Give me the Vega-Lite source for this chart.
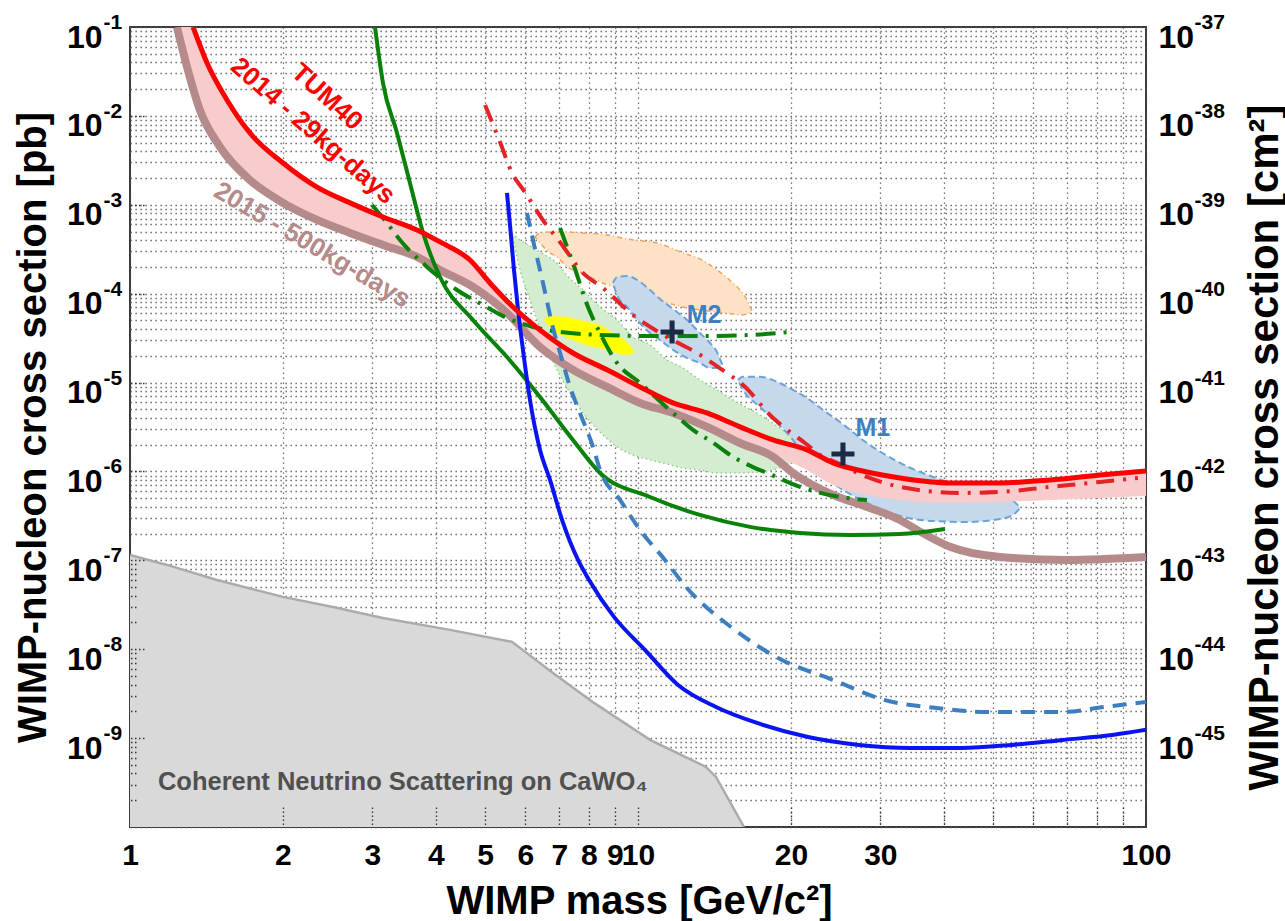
{
"$schema": "https://vega.github.io/schema/vega-lite/v6.json",
"width": 1016, "height": 800,
"autosize": {"type": "none"},
"padding": {"left": 130, "top": 27, "right": 139, "bottom": 94},
"background": "white",
"config": {"font": "Liberation Sans", "view": {"stroke": "#3a3a3a", "strokeWidth": 2},
  "axis": {"labelFont": "Liberation Sans", "titleFont": "Liberation Sans", "labelColor": "#000000", "titleColor": "#000000"}},
"encoding": {
  "x": {"field": "x", "type": "quantitative", "scale": {"type": "log", "domain": [1, 100], "nice": false}, "axis": null},
  "y": {"field": "y", "type": "quantitative", "scale": {"type": "log", "domain": [1e-10, 0.1], "nice": false}, "axis": null}
},
"resolve": {"axis": {"x": "independent", "y": "independent"}},
"datasets": {
  "neutrino": [
    {"x": 1, "y": 1.15e-7}, {"x": 1.183, "y": 8.88e-8}, {"x": 1.483, "y": 6.02e-8}, {"x": 2.001, "y": 3.88e-8},
    {"x": 2.51, "y": 2.99e-8}, {"x": 3.148, "y": 2.25e-8}, {"x": 4.265, "y": 1.65e-8}, {"x": 5.649, "y": 1.21e-8},
    {"x": 6.803, "y": 5.41e-9}, {"x": 8.193, "y": 2.49e-9}, {"x": 10.56, "y": 9.55e-10}, {"x": 13.61, "y": 4.74e-10},
    {"x": 14.24, "y": 3.66e-10}, {"x": 16.17, "y": 1e-10}
  ]
},
"layer": [
{
  "data": {"name": "neutrino"},
  "mark": {"type": "area", "fill": "#d9d9d9", "clip": true},
  "encoding": {
    "x": {"field": "x", "type": "quantitative", "scale": {"type": "log", "domain": [1, 100], "nice": false},
      "axis": {"orient": "bottom", "values": [1,2,3,4,5,6,7,8,9,10,20,30,40,50,60,70,80,90,100],
        "labelExpr": "datum.value <= 30 || datum.value >= 100 ? '' + datum.value : ''",
        "grid": true, "gridColor": "#555555", "gridDash": [1.3, 3.7], "gridWidth": 1.3,
        "ticks": false, "tickSize": 0, "domain": false,
        "labelFontSize": 30, "labelFontWeight": "bold", "labelPadding": 13, "labelOverlap": false, "labelBound": false, "labelFlush": false,
        "labelBaseline": "top", "labelAlign": "center",
        "title": "WIMP mass [GeV/c²]", "titleFontSize": 40, "titleFontWeight": "bold",
        "titleX": 509, "titleY": 86, "titleAlign": "center", "titleBaseline": "alphabetic"}},
    "y": {"field": "y", "type": "quantitative", "scale": {"type": "log", "domain": [1e-10, 0.1], "nice": false},
      "axis": {"orient": "left",
        "values": [1e-10,2e-10,3e-10,4e-10,5e-10,6e-10,7e-10,8e-10,9e-10,
                   1e-9,2e-9,3e-9,4e-9,5e-9,6e-9,7e-9,8e-9,9e-9,
                   1e-8,2e-8,3e-8,4e-8,5e-8,6e-8,7e-8,8e-8,9e-8,
                   1e-7,2e-7,3e-7,4e-7,5e-7,6e-7,7e-7,8e-7,9e-7,
                   1e-6,2e-6,3e-6,4e-6,5e-6,6e-6,7e-6,8e-6,9e-6,
                   1e-5,2e-5,3e-5,4e-5,5e-5,6e-5,7e-5,8e-5,9e-5,
                   1e-4,2e-4,3e-4,4e-4,5e-4,6e-4,7e-4,8e-4,9e-4,
                   1e-3,2e-3,3e-3,4e-3,5e-3,6e-3,7e-3,8e-3,9e-3,
                   1e-2,2e-2,3e-2,4e-2,5e-2,6e-2,7e-2,8e-2,9e-2,0.1],
        "labelExpr": "abs(log(datum.value)/LN10 - round(log(datum.value)/LN10)) < 0.001 && datum.value > 5e-10 ? '10' : ''",
        "grid": true, "gridColor": "#555555", "gridDash": [1.3, 3.7], "gridWidth": 1.3,
        "ticks": false, "tickSize": 0, "domain": false,
        "labelFontSize": 32, "labelFontWeight": "bold", "labelPadding": 28, "labelOffset": 10, "labelOverlap": false, "labelBound": false, "labelFlush": false,
        "labelBaseline": "middle", "labelAlign": "right",
        "title": "WIMP-nucleon cross section [pb]", "titleFontSize": 40, "titleFontWeight": "bold",
        "titleAngle": 270, "titleX": -85, "titleY": 400, "titleAlign": "center", "titleBaseline": "alphabetic"}},
    "y2": {"datum": 1e-10}
  }
},
{
  "data": {"name": "neutrino"},
  "mark": {"type": "line", "color": "#ababab", "strokeWidth": 2.5, "clip": true},
  "encoding": {}
},
{
  "data": {"values": [{"x": 10, "y": 0.001}]},
  "mark": {"type": "point", "opacity": 0},
  "encoding": {
    "y": {"field": "y", "type": "quantitative", "scale": {"type": "log", "domain": [1e-10, 0.1], "nice": false},
      "axis": {"orient": "left", "values": [1e-9,1e-8,1e-7,1e-6,1e-5,1e-4,1e-3,1e-2,0.1],
        "labelExpr": "'-' + (-round(log(datum.value)/LN10))",
        "grid": false, "ticks": false, "tickSize": 0, "domain": false,
        "labelFontSize": 21, "labelFontWeight": "bold", "labelPadding": 27, "labelOffset": -4.5, "labelOverlap": false, "labelBound": false, "labelFlush": false,
        "labelBaseline": "middle", "labelAlign": "left", "title": null}}
  }
},
{
  "data": {"values": [{"x": 10, "y": 0.001}]},
  "mark": {"type": "point", "opacity": 0},
  "encoding": {
    "y": {"field": "y", "type": "quantitative", "scale": {"type": "log", "domain": [1e-10, 0.1], "nice": false},
      "axis": {"orient": "right", "values": [1e-9,1e-8,1e-7,1e-6,1e-5,1e-4,1e-3,1e-2,0.1],
        "labelExpr": "'10'",
        "grid": false, "ticks": false, "tickSize": 0, "domain": false,
        "labelFontSize": 32, "labelFontWeight": "bold", "labelPadding": 12, "labelOffset": 10, "labelOverlap": false, "labelBound": false, "labelFlush": false,
        "labelBaseline": "middle", "labelAlign": "left", "title": null}}
  }
},
{
  "data": {"values": [{"x": 10, "y": 0.001}]},
  "mark": {"type": "point", "opacity": 0},
  "encoding": {
    "y": {"field": "y", "type": "quantitative", "scale": {"type": "log", "domain": [1e-10, 0.1], "nice": false},
      "axis": {"orient": "right", "values": [1e-9,1e-8,1e-7,1e-6,1e-5,1e-4,1e-3,1e-2,0.1],
        "labelExpr": "'-' + (36 - round(log(datum.value)/LN10))",
        "grid": false, "ticks": false, "tickSize": 0, "domain": false,
        "labelFontSize": 21, "labelFontWeight": "bold", "labelPadding": 48, "labelOffset": -4.5, "labelOverlap": false, "labelBound": false, "labelFlush": false,
        "labelBaseline": "middle", "labelAlign": "left",
        "title": "WIMP-nucleon cross section [cm²]", "titleFontSize": 42, "titleFontWeight": "bold",
        "titleAngle": 270, "titleX": 131, "titleY": 420, "titleAlign": "center", "titleBaseline": "alphabetic"}}
  }
},
{
  "data": {"values": [
    {"x": 5.649, "y": 4.82e-4, "y2": 4.82e-4}, {"x": 5.727, "y": 4.46e-4, "y2": 3.27e-4}, {"x": 5.858, "y": 4.02e-4, "y2": 1.85e-4},
    {"x": 6.129, "y": 3.44e-4, "y2": 8.5e-5}, {"x": 6.327, "y": 3.1e-4, "y2": 5.06e-5}, {"x": 6.413, "y": 2.94e-4, "y2": 4.11e-5},
    {"x": 6.928, "y": 2.2e-4, "y2": 1.39e-5}, {"x": 7.248, "y": 1.6e-4, "y2": 8.7e-6}, {"x": 7.794, "y": 1.1e-4, "y2": 4.55e-6},
    {"x": 8.418, "y": 7.08e-5, "y2": 2.78e-6}, {"x": 9.093, "y": 5.06e-5, "y2": 1.89e-6}, {"x": 9.777, "y": 3.26e-5, "y2": 1.53e-6},
    {"x": 10.56, "y": 2.65e-5, "y2": 1.35e-6}, {"x": 11.4, "y": 1.8e-5, "y2": 1.21e-6}, {"x": 12.27, "y": 1.46e-5, "y2": 1.09e-6},
    {"x": 13.24, "y": 1.07e-5, "y2": 1.04e-6}, {"x": 14.3, "y": 8.26e-6, "y2": 9.62e-7}, {"x": 15.38, "y": 6.37e-6, "y2": 9.62e-7},
    {"x": 17.39, "y": 4.32e-6, "y2": 9.87e-7}, {"x": 20.19, "y": 2.44e-6, "y2": 1.28e-6}, {"x": 22.0, "y": 1.75e-6, "y2": 1.75e-6}
  ]},
  "mark": {"type": "area", "interpolate": "monotone", "fill": "#d4ecd0", "stroke": "#8fcf8a", "strokeWidth": 1.5, "strokeDash": [1.5, 3], "clip": true},
  "encoding": {"y2": {"field": "y2"}}
},
{
  "data": {"values": [
    {"x": 6.269, "y": 4.35e-4, "y2": 4.35e-4}, {"x": 6.413, "y": 4.82e-4, "y2": 3.72e-4}, {"x": 6.711, "y": 4.94e-4, "y2": 2.87e-4},
    {"x": 6.928, "y": 4.94e-4, "y2": 2.59e-4}, {"x": 7.248, "y": 4.94e-4, "y2": 2.0e-4}, {"x": 7.688, "y": 4.82e-4, "y2": 1.75e-4},
    {"x": 8.418, "y": 4.7e-4, "y2": 1.36e-4}, {"x": 9.777, "y": 4.02e-4, "y2": 1.02e-4}, {"x": 10.9, "y": 3.72e-4, "y2": 8.5e-5},
    {"x": 12.27, "y": 2.87e-4, "y2": 7.08e-5}, {"x": 13.24, "y": 2.46e-4, "y2": 6.56e-5}, {"x": 14.3, "y": 1.85e-4, "y2": 6.22e-5},
    {"x": 15.38, "y": 1.32e-4, "y2": 5.91e-5}, {"x": 15.88, "y": 1.1e-4, "y2": 5.75e-5}, {"x": 16.39, "y": 8.5e-5, "y2": 5.91e-5},
    {"x": 16.77, "y": 6.39e-5, "y2": 6.39e-5}
  ]},
  "mark": {"type": "area", "interpolate": "monotone", "fill": "#fde2c8", "stroke": "#f5a55a", "strokeWidth": 1.5, "strokeDash": [5, 3, 1, 3], "clip": true},
  "encoding": {"y2": {"field": "y2"}}
},
{
  "data": {"values": [
    {"x": 6.501, "y": 5.19e-5, "y2": 5.19e-5}, {"x": 6.803, "y": 5.61e-5, "y2": 3.91e-5}, {"x": 7.248, "y": 5.47e-5, "y2": 3.18e-5},
    {"x": 7.688, "y": 5.06e-5, "y2": 2.79e-5}, {"x": 8.155, "y": 4.68e-5, "y2": 2.51e-5}, {"x": 8.418, "y": 4.45e-5, "y2": 2.45e-5},
    {"x": 8.929, "y": 3.61e-5, "y2": 2.21e-5}, {"x": 9.513, "y": 2.86e-5, "y2": 2.04e-5}, {"x": 9.865, "y": 2.21e-5, "y2": 2.21e-5}
  ]},
  "mark": {"type": "area", "interpolate": "monotone", "fill": "#ffff00", "stroke": "#f3ef80", "strokeWidth": 1, "clip": true},
  "encoding": {"y2": {"field": "y2"}}
},
{
  "data": {"values": [
    {"r": "M2", "x": 8.929, "y": 1.32e-4, "y2": 1.32e-4}, {"r": "M2", "x": 9.093, "y": 1.54e-4, "y2": 9.66e-5}, {"r": "M2", "x": 9.513, "y": 1.58e-4, "y2": 7.08e-5},
    {"r": "M2", "x": 10.09, "y": 1.36e-4, "y2": 4.68e-5}, {"r": "M2", "x": 10.56, "y": 1.1e-4, "y2": 3.61e-5}, {"r": "M2", "x": 11.05, "y": 8.71e-5, "y2": 3.01e-5},
    {"r": "M2", "x": 11.72, "y": 6.73e-5, "y2": 2.33e-5}, {"r": "M2", "x": 12.49, "y": 5.06e-5, "y2": 1.89e-5}, {"r": "M2", "x": 13.24, "y": 3.61e-5, "y2": 1.66e-5},
    {"r": "M2", "x": 13.86, "y": 2.79e-5, "y2": 1.46e-5}, {"r": "M2", "x": 14.3, "y": 2.21e-5, "y2": 1.46e-5}, {"r": "M2", "x": 14.63, "y": 1.62e-5, "y2": 1.62e-5},
    {"r": "M1", "x": 15.73, "y": 1.07e-5, "y2": 1.07e-5}, {"r": "M1", "x": 16.1, "y": 1.16e-5, "y2": 8.26e-6}, {"r": "M1", "x": 17.39, "y": 1.16e-5, "y2": 5.32e-6},
    {"r": "M1", "x": 18.78, "y": 1.02e-5, "y2": 3.52e-6}, {"r": "M1", "x": 20.19, "y": 8.26e-6, "y2": 2.26e-6}, {"r": "M1", "x": 21.8, "y": 6.37e-6, "y2": 1.18e-6},
    {"r": "M1", "x": 23.13, "y": 4.92e-6, "y2": 8.9e-7}, {"r": "M1", "x": 24.98, "y": 3.6e-6, "y2": 6.52e-7}, {"r": "M1", "x": 28.23, "y": 2.09e-6, "y2": 4.42e-7},
    {"r": "M1", "x": 32.79, "y": 1.25e-6, "y2": 3.16e-7}, {"r": "M1", "x": 38.08, "y": 8.67e-7, "y2": 2.77e-7}, {"r": "M1", "x": 44.42, "y": 6.52e-7, "y2": 2.7e-7},
    {"r": "M1", "x": 51.6, "y": 5.03e-7, "y2": 2.92e-7}, {"r": "M1", "x": 54.72, "y": 4.66e-7, "y2": 3.24e-7}, {"r": "M1", "x": 56.49, "y": 3.88e-7, "y2": 3.88e-7}
  ]},
  "mark": {"type": "area", "interpolate": "monotone", "fill": "#c5d8ec", "stroke": "#6ea3d6", "strokeWidth": 2, "strokeDash": [7, 4], "clip": true},
  "encoding": {"y2": {"field": "y2"}, "detail": {"field": "r"}}
},
{
  "data": {"values": [
    {"x": 1.237, "y": 0.26, "y2": 0.1}, {"x": 1.331, "y": 0.1, "y2": 2.29e-2}, {"x": 1.418, "y": 3.94e-2, "y2": 7.9e-3},
    {"x": 1.552, "y": 1.51e-2, "y2": 3.83e-3}, {"x": 1.722, "y": 6.43e-3, "y2": 1.9e-3}, {"x": 2.001, "y": 2.95e-3, "y2": 1.05e-3},
    {"x": 2.334, "y": 1.58e-3, "y2": 6.75e-4}, {"x": 2.711, "y": 1.05e-3, "y2": 4.82e-4}, {"x": 3.148, "y": 7.29e-4, "y2": 3.53e-4},
    {"x": 3.673, "y": 5.21e-4, "y2": 2.59e-4}, {"x": 4.076, "y": 3.82e-4, "y2": 1.85e-4}, {"x": 4.669, "y": 2.39e-4, "y2": 1.25e-4},
    {"x": 5.112, "y": 1.32e-4, "y2": 8.5e-5}, {"x": 5.675, "y": 7.08e-5, "y2": 5.06e-5}, {"x": 6.413, "y": 3.91e-5, "y2": 2.51e-5},
    {"x": 7.447, "y": 2.15e-5, "y2": 1.39e-5}, {"x": 8.69, "y": 1.39e-5, "y2": 8.93e-6}, {"x": 10.09, "y": 8.93e-6, "y2": 5.9e-6},
    {"x": 11.72, "y": 5.9e-6, "y2": 4.55e-6}, {"x": 13.67, "y": 4.55e-6, "y2": 3.17e-6}, {"x": 15.88, "y": 3.17e-6, "y2": 2.26e-6},
    {"x": 18.45, "y": 2.26e-6, "y2": 1.53e-6}, {"x": 21.51, "y": 1.75e-6, "y2": 1.04e-6}, {"x": 24.21, "y": 1.25e-6, "y2": 7.05e-7},
    {"x": 28.23, "y": 9.87e-7, "y2": 5.44e-7}, {"x": 32.79, "y": 8.45e-7, "y2": 4.78e-7}, {"x": 41.13, "y": 7.43e-7, "y2": 4.42e-7},
    {"x": 51.6, "y": 7.43e-7, "y2": 4.54e-7}, {"x": 64.71, "y": 8.02e-7, "y2": 4.78e-7}, {"x": 81.2, "y": 9.14e-7, "y2": 5.03e-7},
    {"x": 100, "y": 1.01e-6, "y2": 5.3e-7}
  ]},
  "mark": {"type": "area", "interpolate": "monotone", "fill": "#f8cccc", "clip": true},
  "encoding": {"y2": {"field": "y2"}}
},
{
  "data": {"values": [
    {"x": 1.237, "y": 0.1}, {"x": 1.295, "y": 3.55e-2}, {"x": 1.373, "y": 1.16e-2}, {"x": 1.504, "y": 4.47e-3}, {"x": 1.722, "y": 1.9e-3},
    {"x": 2.001, "y": 1.05e-3}, {"x": 2.334, "y": 6.75e-4}, {"x": 2.711, "y": 4.82e-4}, {"x": 3.148, "y": 3.53e-4}, {"x": 3.673, "y": 2.59e-4},
    {"x": 4.076, "y": 1.85e-4}, {"x": 4.733, "y": 1.19e-4}, {"x": 5.522, "y": 6.07e-5}, {"x": 6.413, "y": 2.51e-5}, {"x": 7.447, "y": 1.39e-5},
    {"x": 8.69, "y": 8.93e-6}, {"x": 10.09, "y": 5.9e-6}, {"x": 11.72, "y": 4.55e-6}, {"x": 13.67, "y": 3.17e-6}, {"x": 15.88, "y": 2.09e-6},
    {"x": 18.45, "y": 1.46e-6}, {"x": 20.19, "y": 9.62e-7}, {"x": 24.21, "y": 5.44e-7}, {"x": 28.23, "y": 3.99e-7}, {"x": 32.79, "y": 2.84e-7},
    {"x": 35.42, "y": 2.2e-7}, {"x": 41.13, "y": 1.42e-7}, {"x": 51.6, "y": 1.09e-7}, {"x": 69.9, "y": 1.01e-7}, {"x": 100, "y": 1.09e-7}
  ]},
  "mark": {"type": "line", "interpolate": "monotone", "color": "#b58a8a", "strokeWidth": 8, "clip": true},
  "encoding": {}
},
{
  "data": {"values": [
    {"x": 3.036, "y": 0.1}, {"x": 3.148, "y": 2.34e-2}, {"x": 3.354, "y": 6.43e-3}, {"x": 3.557, "y": 1.76e-3}, {"x": 3.775, "y": 4.82e-4},
    {"x": 4.076, "y": 1.54e-4}, {"x": 4.733, "y": 5.06e-5}, {"x": 5.522, "y": 1.94e-5}, {"x": 6.413, "y": 6.89e-6}, {"x": 7.447, "y": 2.26e-6},
    {"x": 8.418, "y": 9.62e-7}, {"x": 10.56, "y": 5.16e-7}, {"x": 13.24, "y": 3.24e-7}, {"x": 16.61, "y": 2.38e-7}, {"x": 20.84, "y": 2.03e-7},
    {"x": 26.14, "y": 1.93e-7}, {"x": 32.79, "y": 1.98e-7}, {"x": 40.21, "y": 2.25e-7}
  ]},
  "mark": {"type": "line", "interpolate": "monotone", "color": "#0a820a", "strokeWidth": 4, "clip": true},
  "encoding": {}
},
{
  "data": {"values": [
    {"c": "A", "x": 2.995, "y": 9.95e-4}, {"c": "A", "x": 3.205, "y": 6.24e-4}, {"c": "A", "x": 3.4, "y": 4.02e-4}, {"c": "A", "x": 3.843, "y": 2.0e-4},
    {"c": "A", "x": 4.402, "y": 1.1e-4}, {"c": "A", "x": 4.953, "y": 7.46e-5}, {"c": "A", "x": 5.522, "y": 5.33e-5}, {"c": "A", "x": 6.213, "y": 4.22e-5},
    {"c": "A", "x": 7.023, "y": 3.71e-5}, {"c": "A", "x": 8.418, "y": 3.43e-5}, {"c": "A", "x": 10.56, "y": 3.34e-5}, {"c": "A", "x": 13.24, "y": 3.34e-5},
    {"c": "A", "x": 16.61, "y": 3.43e-5}, {"c": "A", "x": 19.92, "y": 3.71e-5},
    {"c": "B", "x": 7.023, "y": 5.48e-4}, {"c": "B", "x": 7.447, "y": 2.21e-4}, {"c": "B", "x": 7.973, "y": 7.08e-5}, {"c": "B", "x": 8.418, "y": 3.61e-5},
    {"c": "B", "x": 9.093, "y": 1.66e-5}, {"c": "B", "x": 10.09, "y": 9.9e-6}, {"c": "B", "x": 11.72, "y": 4.55e-6}, {"c": "B", "x": 12.83, "y": 2.93e-6},
    {"c": "B", "x": 13.98, "y": 2.15e-6}, {"c": "B", "x": 15.38, "y": 1.46e-6}, {"c": "B", "x": 16.84, "y": 1.12e-6}, {"c": "B", "x": 17.95, "y": 9.62e-7},
    {"c": "B", "x": 20.84, "y": 6.7e-7}, {"c": "B", "x": 24.98, "y": 5.16e-7}, {"c": "B", "x": 28.23, "y": 4.78e-7}
  ]},
  "mark": {"type": "line", "interpolate": "monotone", "color": "#0a820a", "strokeWidth": 4, "strokeDash": [20, 8, 3, 8], "clip": true},
  "encoding": {"detail": {"field": "c"}}
},
{
  "data": {"values": [
    {"x": 6.046, "y": 8.09e-4}, {"x": 6.213, "y": 4.02e-4}, {"x": 6.501, "y": 1.32e-4}, {"x": 6.803, "y": 4.11e-5}, {"x": 7.09, "y": 1.8e-5},
    {"x": 7.348, "y": 8.93e-6}, {"x": 7.688, "y": 4.55e-6}, {"x": 8.155, "y": 1.89e-6}, {"x": 8.418, "y": 1.04e-6}, {"x": 9.218, "y": 4.78e-7},
    {"x": 10.09, "y": 2.2e-7}, {"x": 11.3, "y": 1.01e-7}, {"x": 12.43, "y": 5.02e-8}, {"x": 15.24, "y": 1.78e-8}, {"x": 19.2, "y": 7.58e-9},
    {"x": 24.21, "y": 4.52e-9}, {"x": 30.5, "y": 2.69e-9}, {"x": 38.42, "y": 2.19e-9}, {"x": 48.42, "y": 1.97e-9}, {"x": 68.64, "y": 1.97e-9},
    {"x": 82.7, "y": 2.24e-9}, {"x": 100, "y": 2.55e-9}
  ]},
  "mark": {"type": "line", "interpolate": "monotone", "color": "#3c7fc1", "strokeWidth": 4, "strokeDash": [14, 9], "clip": true},
  "encoding": {}
},
{
  "data": {"values": [
    {"x": 5.522, "y": 1.36e-3}, {"x": 5.598, "y": 5.93e-4}, {"x": 5.70, "y": 1.85e-4}, {"x": 5.806, "y": 6.56e-5}, {"x": 5.937, "y": 2.33e-5},
    {"x": 6.129, "y": 6.37e-6}, {"x": 6.413, "y": 1.75e-6}, {"x": 6.711, "y": 8.02e-7}, {"x": 7.09, "y": 2.84e-7}, {"x": 7.62, "y": 1.01e-7},
    {"x": 8.01, "y": 6.02e-8}, {"x": 8.97, "y": 2.31e-8}, {"x": 10.32, "y": 9.82e-9}, {"x": 11.99, "y": 3.96e-9}, {"x": 14.24, "y": 2.24e-9},
    {"x": 17.15, "y": 1.48e-9}, {"x": 21.61, "y": 1.03e-9}, {"x": 27.23, "y": 8.39e-10}, {"x": 34.31, "y": 7.76e-10}, {"x": 43.23, "y": 7.76e-10},
    {"x": 54.47, "y": 8.39e-10}, {"x": 68.64, "y": 9.55e-10}, {"x": 86.5, "y": 1.09e-9}, {"x": 100, "y": 1.24e-9}
  ]},
  "mark": {"type": "line", "interpolate": "monotone", "color": "#0a14f0", "strokeWidth": 4, "clip": true},
  "encoding": {}
},
{
  "data": {"values": [
    {"x": 5.0, "y": 1.33e-2}, {"x": 5.35, "y": 5.08e-3}, {"x": 5.65, "y": 2.28e-3}, {"x": 5.99, "y": 1.39e-3}, {"x": 6.56, "y": 6.24e-4},
    {"x": 7.02, "y": 3.82e-4}, {"x": 7.79, "y": 1.71e-4}, {"x": 8.53, "y": 1.16e-4}, {"x": 9.78, "y": 5.75e-5}, {"x": 11.4, "y": 3.26e-5},
    {"x": 13.07, "y": 2.15e-5}, {"x": 14.83, "y": 1.32e-5}, {"x": 16.1, "y": 9.4e-6}, {"x": 18.36, "y": 4.1e-6}, {"x": 19.92, "y": 2.78e-6},
    {"x": 21.32, "y": 2.09e-6}, {"x": 22.82, "y": 1.53e-6}, {"x": 24.65, "y": 1.25e-6}, {"x": 28.23, "y": 8.67e-7}, {"x": 32.79, "y": 6.7e-7},
    {"x": 43.04, "y": 5.73e-7}, {"x": 51.6, "y": 5.88e-7}, {"x": 64.71, "y": 6.7e-7}, {"x": 81.2, "y": 7.62e-7}, {"x": 96.4, "y": 8.45e-7}
  ]},
  "mark": {"type": "line", "interpolate": "monotone", "color": "#e42328", "strokeWidth": 4, "strokeDash": [18, 9, 3, 9], "clip": true},
  "encoding": {}
},
{
  "data": {"values": [
    {"x": 1.331, "y": 0.1}, {"x": 1.418, "y": 3.94e-2}, {"x": 1.552, "y": 1.51e-2}, {"x": 1.722, "y": 6.43e-3}, {"x": 2.001, "y": 2.95e-3},
    {"x": 2.334, "y": 1.58e-3}, {"x": 2.711, "y": 1.05e-3}, {"x": 3.148, "y": 7.29e-4}, {"x": 3.673, "y": 5.21e-4}, {"x": 4.076, "y": 3.82e-4},
    {"x": 4.669, "y": 2.39e-4}, {"x": 5.112, "y": 1.32e-4}, {"x": 5.675, "y": 7.08e-5}, {"x": 6.413, "y": 3.91e-5}, {"x": 7.447, "y": 2.15e-5},
    {"x": 8.69, "y": 1.39e-5}, {"x": 10.09, "y": 8.93e-6}, {"x": 11.72, "y": 5.9e-6}, {"x": 13.67, "y": 4.55e-6}, {"x": 15.88, "y": 3.17e-6},
    {"x": 18.45, "y": 2.26e-6}, {"x": 21.51, "y": 1.75e-6}, {"x": 24.21, "y": 1.25e-6}, {"x": 28.23, "y": 9.87e-7}, {"x": 32.79, "y": 8.45e-7},
    {"x": 41.13, "y": 7.43e-7}, {"x": 51.6, "y": 7.43e-7}, {"x": 64.71, "y": 8.02e-7}, {"x": 81.2, "y": 9.14e-7}, {"x": 100, "y": 1.01e-6}
  ]},
  "mark": {"type": "line", "interpolate": "monotone", "color": "#ff0000", "strokeWidth": 5, "clip": true},
  "encoding": {}
},
{
  "data": {"values": [{"x": 11.67, "y": 3.71e-5}, {"x": 25.32, "y": 1.57e-6}]},
  "mark": {"type": "point", "shape": "M-1,-0.22L1,-0.22L1,0.22L-1,0.22Z M-0.22,-1L0.22,-1L0.22,1L-0.22,1Z", "size": 529, "filled": true, "color": "#1c2b44", "opacity": 1}
},
{
  "data": {"values": [{"x": 2.442, "y": 0.0163, "t": "TUM40"}]},
  "mark": {"type": "text", "angle": 42, "fontSize": 26, "fontWeight": "bold", "color": "#ff0000", "align": "center", "baseline": "middle"},
  "encoding": {"text": {"field": "t"}}
},
{
  "data": {"values": [{"x": 2.292, "y": 0.00676, "t": "2014 - 29kg-days"}]},
  "mark": {"type": "text", "angle": 41, "fontSize": 26, "fontWeight": "bold", "color": "#ff0000", "align": "center", "baseline": "middle"},
  "encoding": {"text": {"field": "t"}}
},
{
  "data": {"values": [{"x": 2.283, "y": 3.53e-4, "t": "2015 - 500kg-days"}]},
  "mark": {"type": "text", "angle": 30.5, "fontSize": 26, "fontWeight": "bold", "color": "#b58a8a", "align": "center", "baseline": "middle"},
  "encoding": {"text": {"field": "t"}}
},
{
  "data": {"values": [{"x": 13.49, "y": 5.75e-5, "t": "M2"}, {"x": 29.0, "y": 3.08e-6, "t": "M1"}]},
  "mark": {"type": "text", "fontSize": 25, "fontWeight": "bold", "color": "#3d80c2", "align": "center", "baseline": "middle"},
  "encoding": {"text": {"field": "t"}}
},
{
  "data": {"values": [{"x": 1.135, "y": 3.21e-10, "t": "Coherent Neutrino Scattering on CaWO₄"}]},
  "mark": {"type": "text", "fontSize": 25.5, "fontWeight": "bold", "color": "#505050", "align": "left", "baseline": "middle"},
  "encoding": {"text": {"field": "t"}}
},
{
  "data": {"values": [{"x": 10, "y": 0.001}]},
  "mark": {"type": "point", "opacity": 0},
  "encoding": {
    "x": {"field": "x", "type": "quantitative", "scale": {"type": "log", "domain": [1, 100], "nice": false},
      "axis": {"orient": "bottom", "offset": -20, "values": [2,3,4,5,6,7,8,9,10,20,30,40,50,60,70,80,90],
        "labels": false, "grid": false, "domain": false, "ticks": true, "tickSize": 20, "tickWidth": 1.3, "tickColor": "#333333",
        "tickDash": [1.5, 2.5], "zindex": 1, "title": null}}
  }
},
{
  "data": {"values": [{"x": 10, "y": 0.001}]},
  "mark": {"type": "point", "opacity": 0},
  "encoding": {
    "y": {"field": "y", "type": "quantitative", "scale": {"type": "log", "domain": [1e-10, 0.1], "nice": false},
      "axis": {"orient": "left", "offset": -14, "values": [1e-9,1e-8,1e-7,1e-6,1e-5,1e-4,1e-3,1e-2],
        "labels": false, "grid": false, "domain": false, "ticks": true, "tickSize": 14, "tickWidth": 1.3, "tickColor": "#333333",
        "tickDash": [1.5, 2.5], "zindex": 1, "title": null}}
  }
},
{
  "data": {"values": [{"x": 10, "y": 0.001}]},
  "mark": {"type": "point", "opacity": 0},
  "encoding": {
    "y": {"field": "y", "type": "quantitative", "scale": {"type": "log", "domain": [1e-10, 0.1], "nice": false},
      "axis": {"orient": "left", "offset": -6,
        "values": [2e-10,3e-10,4e-10,5e-10,6e-10,7e-10,8e-10,9e-10,
                   2e-9,3e-9,4e-9,5e-9,6e-9,7e-9,8e-9,9e-9,
                   2e-8,3e-8,4e-8,5e-8,6e-8,7e-8,8e-8,9e-8],
        "labels": false, "grid": false, "domain": false, "ticks": true, "tickSize": 6, "tickWidth": 1.3, "tickColor": "#333333",
        "tickDash": [1.5, 2.5], "zindex": 1, "title": null}}
  }
}
]
}
